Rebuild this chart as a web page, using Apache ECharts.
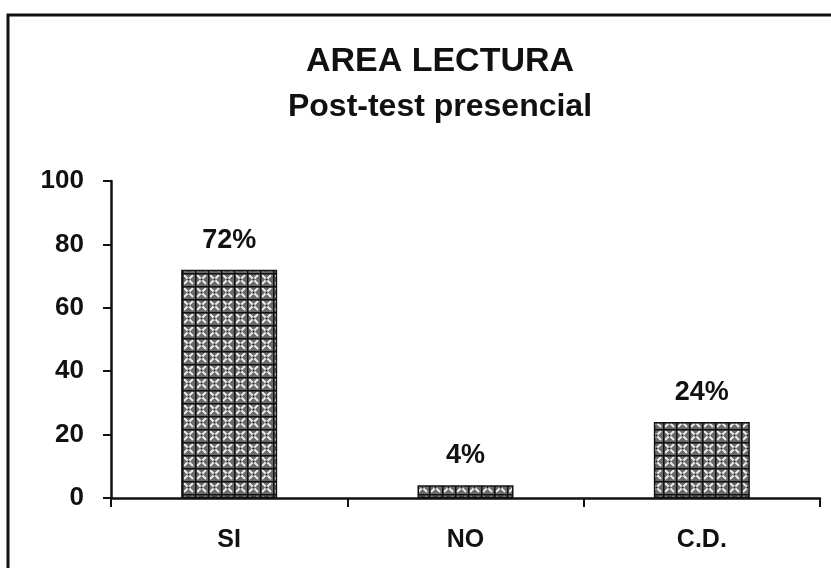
<!DOCTYPE html>
<html>
<head>
<meta charset="utf-8">
<script src="https://cdn.jsdelivr.net/npm/echarts@6/dist/echarts.min.js"></script>
<style>
  html, body { margin: 0; padding: 0; background: #fff; }
  #chart { width: 831px; height: 568px; }
</style>
</head>
<body>
<div id="chart"></div>
<script>
const categories = ['SI', 'NO', 'C.D.']
const values = [72, 4, 24]
const yTicks = [0, 20, 40, 60, 80, 100]

// hatch tile used to fill the bars
function makePattern() {
  const c = document.createElement('canvas')
  c.width = 13
  c.height = 13
  const ctx = c.getContext('2d')
  ctx.fillStyle = '#6a6a6a'
  ctx.fillRect(0, 0, 13, 13)
  ctx.strokeStyle = '#ececec'
  ctx.lineWidth = 2
  ctx.beginPath()
  ctx.moveTo(2, 2); ctx.lineTo(11, 11)
  ctx.moveTo(11, 2); ctx.lineTo(2, 11)
  ctx.stroke()
  ctx.fillStyle = '#111'
  ctx.fillRect(0, 0, 13, 1.5)
  ctx.fillRect(0, 0, 1.5, 13)
  ctx.fillRect(5.5, 5.5, 2, 2)
  return c
}

const chart = echarts.init(document.getElementById('chart'))
const font = 'Liberation Sans, Arial, sans-serif'

chart.setOption({
  animation: false,
  backgroundColor: '#fff',
  title: {
    text: 'AREA LECTURA',
    subtext: 'Post-test presencial',
    left: 435,
    textAlign: 'center',
    top: 40,
    itemGap: 12,
    textStyle: { fontFamily: font, fontWeight: 'bold', fontSize: 34, color: '#111' },
    subtextStyle: { fontFamily: font, fontWeight: 'bold', fontSize: 32, color: '#111' },
  },
  graphic: [
    {
      type: 'rect',
      shape: { x: 8, y: 15, width: 840, height: 580 },
      style: { fill: 'none', stroke: '#111', lineWidth: 3 },
      silent: true,
    },
  ],
  grid: { left: 111, top: 181, right: 11, bottom: 70 },
  xAxis: {
    type: 'category',
    data: categories,
    axisLine: { lineStyle: { color: '#111', width: 2.5 } },
    axisTick: { show: true, length: 9, lineStyle: { color: '#111', width: 2 } },
    axisLabel: { margin: 30, fontFamily: font, fontWeight: 'bold', fontSize: 25, color: '#111' },
  },
  yAxis: {
    type: 'value',
    min: yTicks[0],
    max: yTicks[yTicks.length - 1],
    interval: 20,
    axisLine: { show: true, lineStyle: { color: '#111', width: 2.5 } },
    axisTick: { show: true, length: 8, lineStyle: { color: '#111', width: 2 } },
    axisLabel: { margin: 27, fontFamily: font, fontWeight: 'bold', fontSize: 26, color: '#111' },
    splitLine: { show: false },
  },
  series: [
    {
      type: 'bar',
      data: values,
      barWidth: 96,
      itemStyle: {
        color: { image: makePattern(), repeat: 'repeat' },
        borderColor: '#111',
        borderWidth: 1.5,
      },
      label: {
        show: true,
        position: 'top',
        distance: 16,
        formatter: '{c}%',
        fontFamily: font,
        fontWeight: 'bold',
        fontSize: 27,
        color: '#111',
      },
    },
  ],
})
</script>
</body>
</html>
